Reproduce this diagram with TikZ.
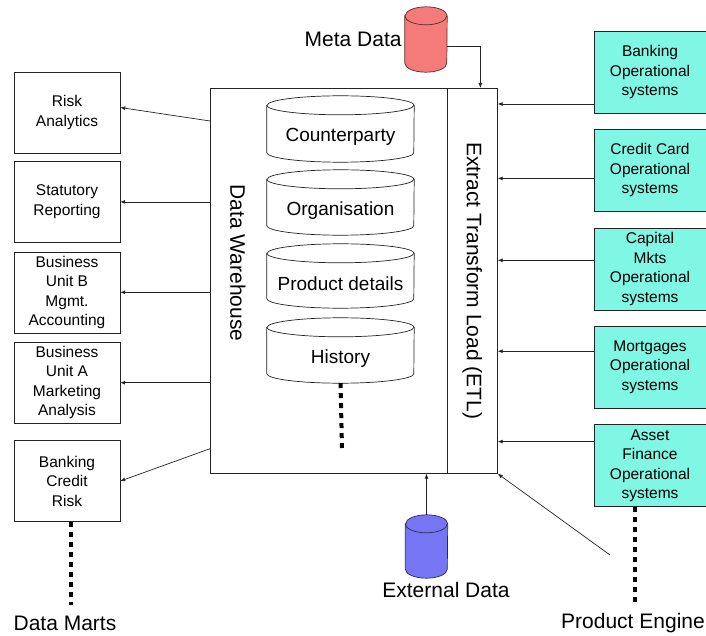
\documentclass[tikz,border=0pt]{standalone}
\usepackage{fontspec}
\setmainfont{Liberation Sans}
\usetikzlibrary{arrows.meta, positioning}
\definecolor{opcyan}{RGB}{128,246,228}
\definecolor{metared}{RGB}{245,122,122}
\definecolor{extblue}{RGB}{118,118,245}
\definecolor{linegray}{RGB}{35,35,35}

% cylinder: name, centre, x radius, height, y radius, path options, text
\newcommand{\datastore}[7]{%
  \node[rectangle, minimum width=2*#3, minimum height=#4, inner sep=0pt] (#1) at (#2) {};
  \draw[#6] ([yshift=-#5]#1.north west) -- ([yshift=#5]#1.south west)
    arc[start angle=180, end angle=360, x radius=#3, y radius=#5]
    -- ([yshift=-#5]#1.north east)
    arc[start angle=0, end angle=180, x radius=#3, y radius=#5] -- cycle;
  \draw[#6, fill=none] ([yshift=-#5]#1.north west)
    arc[start angle=180, end angle=360, x radius=#3, y radius=#5];
  \node[storetext, yshift=-8pt] (#1text) at (#1.center) {#7};
}

\begin{document}
\begin{tikzpicture}[
  x=1pt, y=-1pt,
  node distance=9pt,
  mart/.style={rectangle, draw=linegray, fill=white, minimum width=106pt,
               minimum height=81pt, inner sep=1pt, align=center,
               font=\fontsize{15.5}{19.5}\selectfont},
  opsys/.style={rectangle, draw=linegray, fill=opcyan, minimum width=112pt,
                minimum height=82pt, inner sep=1pt, align=center,
                font=\fontsize{15.5}{19.5}\selectfont},
  storetext/.style={font=\fontsize{19}{22}\selectfont, inner sep=0pt},
  store/.style={draw=linegray, fill=white, line width=0.7pt},
  tag/.style={font=\fontsize{21}{24}\selectfont, inner sep=2pt},
  frame/.style={rectangle, draw=linegray, line width=0.7pt,
                minimum height=385pt, anchor=north west},
  arr/.style={-{Latex[length=5pt, width=4pt]}, linegray, line width=0.7pt},
  dotline/.style={line width=4pt, dash pattern=on 5pt off 5pt},
]
\useasboundingbox (0,0) rectangle (706,636);

% Warehouse and ETL
\node[frame, minimum width=237pt] (dw) at (210,88) {};
\node[frame, minimum width=50pt,
      label={[rotate=-90, tag]center:Extract Transform Load (ETL)}] (etl) at (447,88) {};
\node[tag, rotate=-90] (dwtext) at (238,263) {Data Warehouse};

% Stores inside the warehouse
\datastore{cpty}{340.5,129}{73.5pt}{66pt}{9.5pt}{store}{Counterparty}
\datastore{orgn}{340.5,202.5}{73.5pt}{65pt}{9.5pt}{store}{Organisation}
\datastore{prod}{340.5,276}{73.5pt}{64pt}{9.5pt}{store}{Product details}
\datastore{hist}{340.5,350.5}{73.5pt}{65pt}{9.5pt}{store}{History}
\coordinate (histend) at (342,448);

% Data marts
\node[mart] (risk) at (67,112.5) {Risk\\Analytics};
\node[mart, below=8pt of risk] (stat) {Statutory\\Reporting};
\node[mart, below=of stat] (busb) {Business\\Unit B\\Mgmt.\\Accounting};
\node[mart, below=of busb] (busa) {Business\\Unit A\\Marketing\\Analysis};
\node[mart, below=17pt of busa] (bcr) {Banking\\Credit\\Risk};
\node[tag] (marts) at (65,623) {Data Marts};

% Operational systems
\node[opsys] (bos) at (650,72) {Banking\\Operational\\systems};
\node[opsys, below=16pt of bos] (ccos) {Credit Card\\Operational\\systems};
\node[opsys, below=16pt of ccos] (cmos) {Capital\\Mkts\\Operational\\systems};
\node[opsys, below=16pt of cmos] (mtos) {Mortgages\\Operational\\systems};
\node[opsys, below=16pt of mtos] (afos) {Asset\\Finance\\Operational\\systems};
\node[tag] (engine) at (633,623) {Product Engine};
\coordinate (engtail) at (610,555);

% Meta and external data
\datastore{meta}{426,39.5}{21pt}{65pt}{9pt}{fill=metared, draw=metared!35!black, line width=0.7pt}{}
\node[tag, left=1pt of meta] (metatext) {Meta Data};
\datastore{ext}{426.5,546.5}{21pt}{63pt}{9pt}{fill=extblue, draw=extblue!35!black, line width=0.7pt}{}
\node[tag] (exttext) at (446,590) {External Data};

% Arrows - warehouse to marts
\draw[arr] ([yshift=-33pt]dw.north west) -- ([yshift=5pt]risk.east);
\draw[arr] (stat.east -| dw.west) -- (stat.east);
\draw[arr] (busb.east -| dw.west) -- (busb.east);
\draw[arr] (busa.east -| dw.west) -- (busa.east);
\draw[arr] ([yshift=25pt]dw.south west) -- (bcr.east);

% Arrows - operational systems to ETL
\draw[arr] ([yshift=-32pt]bos.west) -- ([yshift=-32pt]bos.west -| etl.east);
\draw[arr] ([yshift=-8pt]ccos.west) -- ([yshift=-8pt]ccos.west -| etl.east);
\draw[arr] ([yshift=8.5pt]cmos.west) -- ([yshift=8.5pt]cmos.west -| etl.east);
\draw[arr] ([yshift=16pt]mtos.west) -- ([yshift=16pt]mtos.west -| etl.east);
\draw[arr] ([yshift=24pt]afos.west) -- ([yshift=24pt]afos.west -| etl.east);

% Arrows - meta, external, product engine
\draw[arr] ([yshift=-7pt]meta.east) -| ([xshift=8pt]etl.north);
\draw[arr] (ext.north) -- (ext.north |- dw.south);
\draw[arr] (engtail) -- (etl.south east);

% Dotted continuations
\draw[dotline] (hist.south) -- (histend);
\draw[dotline] ([xshift=4pt]bcr.south) -- ([xshift=6pt, yshift=8pt]marts.north);
\draw[dotline] ([xshift=-15pt]afos.south) -- ([xshift=2pt, yshift=8pt]engine.north);

\end{tikzpicture}
\end{document}
